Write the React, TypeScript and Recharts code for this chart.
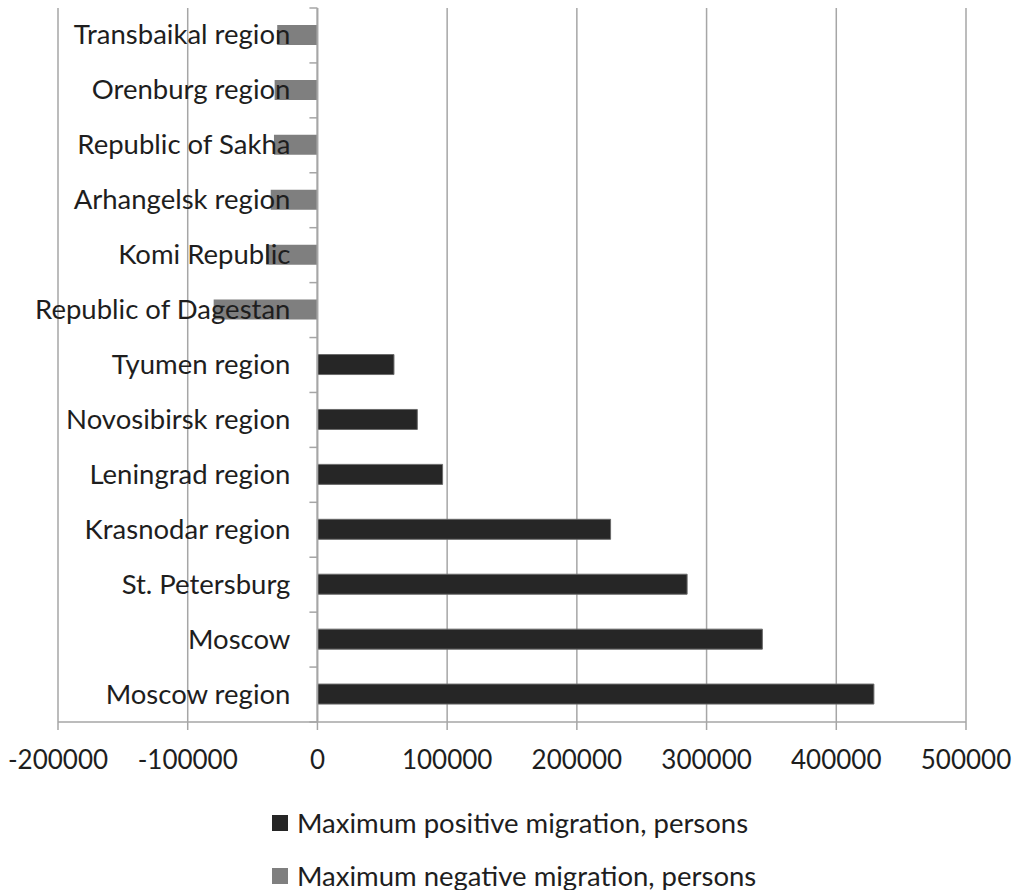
import React from 'react';
import { BarChart, Bar, XAxis, YAxis, CartesianGrid, Legend, ReferenceLine } from 'recharts';

const regions = [
  'Transbaikal region',
  'Orenburg region',
  'Republic of Sakha',
  'Arhangelsk region',
  'Komi Republic',
  'Republic of Dagestan',
  'Tyumen region',
  'Novosibirsk region',
  'Leningrad region',
  'Krasnodar region',
  'St. Petersburg',
  'Moscow',
  'Moscow region',
];
const positive = [null, null, null, null, null, null, 59000, 77000, 96500, 226000, 285000, 343000, 429000];
const negative = [-31000, -33000, -33500, -36000, -39500, -80000, null, null, null, null, null, null, null];
const xTicks = [-200000, -100000, 0, 100000, 200000, 300000, 400000, 500000];
const seriesOrder = ['pos', 'neg'];

const data = regions.map((name, i) => ({ name, pos: positive[i], neg: negative[i] }));

const W = 1017;
const H = 890;
const M = { top: 8, right: 51, left: 57, bottom: 108 };
const Y_AXIS_W = 1;
const X_AXIS_H = 60;
const PLOT_LEFT = M.left + Y_AXIS_W;
const PLOT_W = W - PLOT_LEFT - M.right;
const PLOT_H = H - M.top - M.bottom - X_AXIS_H;
const BAND = PLOT_H / regions.length;
const ZERO_X = PLOT_LEFT + (PLOT_W * (0 - xTicks[0])) / (xTicks[xTicks.length - 1] - xTicks[0]);

const FONT = 'Lato, "Open Sans", sans-serif';
const GRID = '#a6a6a6';
const TEXT = '#1e1e1e';

// category labels sit left of the zero line, with the axis line and boundary ticks drawn there too
function RegionTick(props: any) {
  const { y, payload, index } = props;
  return (
    <g>
      <line x1={ZERO_X} x2={ZERO_X} y1={y - BAND / 2} y2={y + BAND / 2} stroke={GRID} strokeWidth={1.5} />
      {index === 0 && <line x1={ZERO_X - 8} x2={ZERO_X} y1={y - BAND / 2} y2={y - BAND / 2} stroke={GRID} strokeWidth={1.5} />}
      <line x1={ZERO_X - 8} x2={ZERO_X} y1={y + BAND / 2} y2={y + BAND / 2} stroke={GRID} strokeWidth={1.5} />
      <text x={ZERO_X - 27} y={y} dy={9} textAnchor="end" fontFamily={FONT} fontSize={27.5} fill={TEXT}>
        {payload.value}
      </text>
    </g>
  );
}

function ValueTick(props: any) {
  const { x, y, payload } = props;
  return (
    <text x={x} y={y + 37} textAnchor="middle" fontFamily={FONT} fontSize={26} fill={TEXT}>
      {payload.value}
    </text>
  );
}

function LegendRows(props: any) {
  const items = [...(props.payload || [])].sort(
    (a: any, b: any) => seriesOrder.indexOf(a.dataKey) - seriesOrder.indexOf(b.dataKey)
  );
  return (
    <div style={{ fontFamily: FONT, fontSize: 27.5, color: TEXT }}>
      {items.map((p: any) => (
        <div key={p.value} style={{ display: 'flex', alignItems: 'center', height: 53, whiteSpace: 'nowrap' }}>
          <span style={{ display: 'inline-block', width: 16, height: 16, background: p.color, marginRight: 9 }} />
          {p.value}
        </div>
      ))}
    </div>
  );
}

export default function App() {
  return (
    <div style={{ position: 'absolute', left: 0, top: 0, width: W, height: H, background: '#fff' }}>
      <BarChart width={W} height={H} data={data} layout="vertical" margin={M} stackOffset="sign">
        <CartesianGrid horizontal={false} stroke={GRID} strokeWidth={1.5} />
        <XAxis
          type="number"
          domain={[xTicks[0], xTicks[xTicks.length - 1]]}
          ticks={xTicks}
          height={X_AXIS_H}
          tickSize={8}
          axisLine={{ stroke: GRID, strokeWidth: 1.5 }}
          tickLine={{ stroke: GRID, strokeWidth: 1.5 }}
          tick={(p: any) => <ValueTick {...p} />}
          interval={0}
        />
        <ReferenceLine x={0} stroke={GRID} strokeWidth={1.5} />
        <Bar dataKey="pos" name="Maximum positive migration, persons" stackId="s" fill="#262626" stroke="#6a6a6a" strokeWidth={1} barSize={20} isAnimationActive={false} />
        <Bar dataKey="neg" name="Maximum negative migration, persons" stackId="s" fill="#7f7f7f" barSize={20} isAnimationActive={false} />
        <YAxis
          type="category"
          dataKey="name"
          width={Y_AXIS_W}
          axisLine={false}
          tickLine={false}
          tick={(p: any) => <RegionTick {...p} />}
          interval={0}
        />
        <Legend
          layout="horizontal"
          verticalAlign="middle"
          align="center"
          content={(p: any) => <LegendRows {...p} />}
          wrapperStyle={{ top: 796, left: 272, width: 560, height: 106 }}
        />
      </BarChart>
    </div>
  );
}
